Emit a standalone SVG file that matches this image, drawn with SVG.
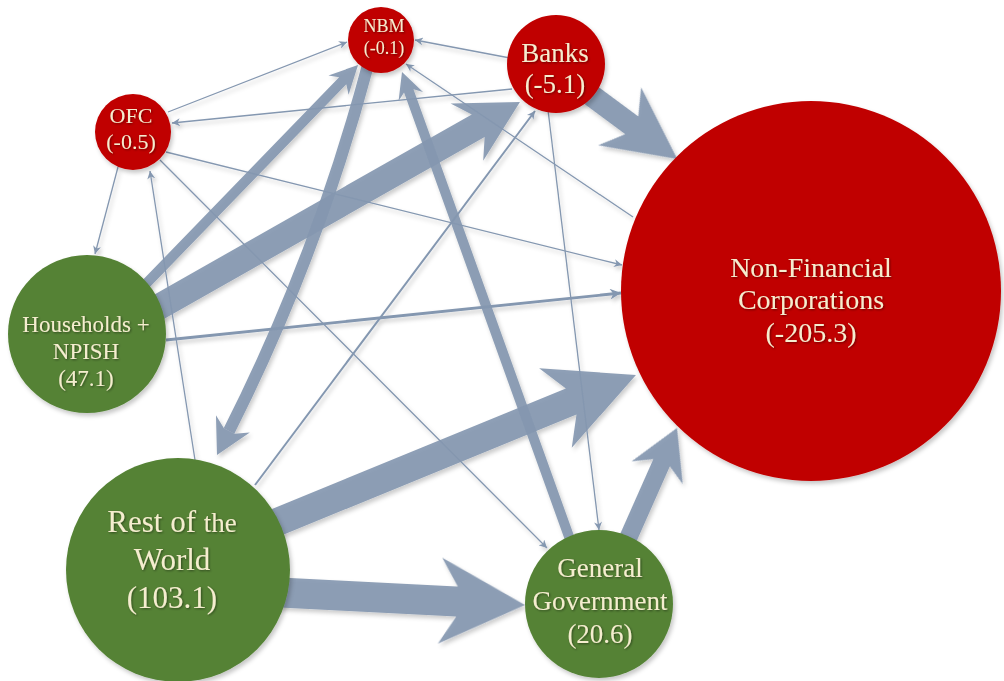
<svg xmlns="http://www.w3.org/2000/svg" width="1004" height="681" viewBox="0 0 1004 681">
<defs>
<style>
.thick{fill:#8497B0;opacity:0.92}
.shaft{fill:none;stroke:#8497B0;opacity:0.92}
.thin{stroke:#8497B0;stroke-width:1.3;fill:none;marker-end:url(#ah)}
.mid{stroke:#8497B0;stroke-width:2.8;fill:none;marker-end:url(#ah2)}
.red{fill:#C00000}
.green{fill:#548235}
text{font-family:"Liberation Serif","Times New Roman",serif;fill:#F5EDCF;text-anchor:middle;filter:url(#ts)}
</style>
<marker id="ah" viewBox="0 0 10 10" refX="10" refY="5" markerUnits="userSpaceOnUse" markerWidth="9" markerHeight="8" orient="auto">
<path d="M0,0 L10,5 L0,10 L3,5 z" fill="#8497B0"/>
</marker>
<marker id="ah2" viewBox="0 0 10 10" refX="10" refY="5" markerUnits="userSpaceOnUse" markerWidth="12" markerHeight="11" orient="auto">
<path d="M0,0 L10,5 L0,10 L3,5 z" fill="#8497B0"/>
</marker>
<filter id="sh" x="-10%" y="-10%" width="120%" height="120%">
<feDropShadow dx="2" dy="3" stdDeviation="2" flood-color="#000" flood-opacity="0.22"/>
</filter>
<filter id="ts" x="-10%" y="-20%" width="120%" height="140%">
<feDropShadow dx="1" dy="1" stdDeviation="0.8" flood-color="#000" flood-opacity="0.45"/>
</filter>
</defs>
<rect width="1004" height="681" fill="#fff"/>
<g id="connectors" filter="url(#sh)">
<line class="thin" x1="168" y1="112" x2="347" y2="42"/>
<line class="thin" x1="510" y1="58" x2="415" y2="40"/>
<line class="thin" x1="512" y1="89" x2="172" y2="123"/>
<line class="thin" x1="166" y1="152" x2="622" y2="265"/>
<line class="mid" x1="166" y1="340" x2="621" y2="293"/>
<line class="thin" x1="160" y1="160" x2="547" y2="548"/>
<line class="thin" x1="633" y1="217" x2="406" y2="64"/>
<line class="thin" x1="548" y1="110" x2="599" y2="530"/>
<line class="thin" x1="255" y1="485" x2="535" y2="111" style="stroke-width:2"/>
<line class="thin" x1="195" y1="460" x2="150" y2="171"/>
<line class="thin" x1="118" y1="167" x2="95" y2="254"/>
<polygon class="thick" transform="translate(140 290) rotate(-45.9)" points="0,-5 291.3,-5 285.3,-14 313.3,0 285.3,14 291.3,5 0,5"/>
<polygon class="thick" transform="translate(572 545) rotate(-109.77)" points="0,-5 482.6,-5 476.6,-13 502.6,0 476.6,13 482.6,5 0,5"/>
<path class="shaft" d="M368,65 Q317,257 229,431" stroke-width="12"/>
<polygon class="thick" transform="translate(217 455) rotate(117)" points="0,0 -35,-19 -27,-6 -27,6 -35,19"/>
<polygon class="thick" transform="translate(150 312) rotate(-29.58)" points="0,-13 377.4,-13 364.4,-33 425.4,0 364.4,33 377.4,13 0,13"/>
<polygon class="thick" transform="translate(580 87) rotate(36.5)" points="0,-11 64.4,-11 49.4,-36 121,0 49.4,36 64.4,11 0,11"/>
<polygon class="thick" transform="translate(270 525) rotate(-22.29)" points="0,-14 325.5,-14 308.5,-43 395.5,0 308.5,43 325.5,14 0,14"/>
<polygon class="thick" transform="translate(270 592) rotate(2.92)" points="0,-15 187.3,-15 170.3,-43 255.3,0 170.3,43 187.3,15 0,15"/>
<polygon class="thick" transform="translate(622 552) rotate(-66.08)" points="0,-9 97.7,-9 86.7,-28 135.7,0 86.7,28 97.7,9 0,9"/>
</g>
<g id="nbm">
<circle class="red" cx="381" cy="40" r="33" filter="url(#sh)"/>
<text x="384" y="32" font-size="18">NBM</text>
<text x="384" y="54" font-size="18">(-0.1)</text>
</g>
<g id="banks">
<circle class="red" cx="556" cy="64" r="49" filter="url(#sh)"/>
<text x="555" y="62" font-size="27">Banks</text>
<text x="555" y="93" font-size="27">(-5.1)</text>
</g>
<g id="ofc">
<circle class="red" cx="133" cy="132" r="38" filter="url(#sh)"/>
<text x="131" y="123" font-size="22">OFC</text>
<text x="131" y="149" font-size="22">(-0.5)</text>
</g>
<g id="households">
<circle class="green" cx="87" cy="334" r="79" filter="url(#sh)"/>
<text x="86" y="332" font-size="23">Households +</text>
<text x="86" y="359" font-size="23">NPISH</text>
<text x="86" y="386" font-size="23">(47.1)</text>
</g>
<g id="rest-of-world">
<circle class="green" cx="178" cy="570" r="112" filter="url(#sh)"/>
<text x="172" y="532" font-size="31">Rest of <tspan font-size="27">the</tspan></text>
<text x="172" y="570" font-size="31">World</text>
<text x="172" y="608" font-size="31">(103.1)</text>
</g>
<g id="general-government">
<circle class="green" cx="599" cy="604" r="74" filter="url(#sh)"/>
<text x="600" y="577" font-size="27">General</text>
<text x="600" y="610" font-size="27">Government</text>
<text x="600" y="643" font-size="27">(20.6)</text>
</g>
<g id="nfc">
<circle class="red" cx="811" cy="291" r="190" filter="url(#sh)"/>
<text x="811" y="277" font-size="28">Non-Financial</text>
<text x="811" y="309" font-size="28">Corporations</text>
<text x="811" y="342" font-size="28">(-205.3)</text>
</g>
</svg>
